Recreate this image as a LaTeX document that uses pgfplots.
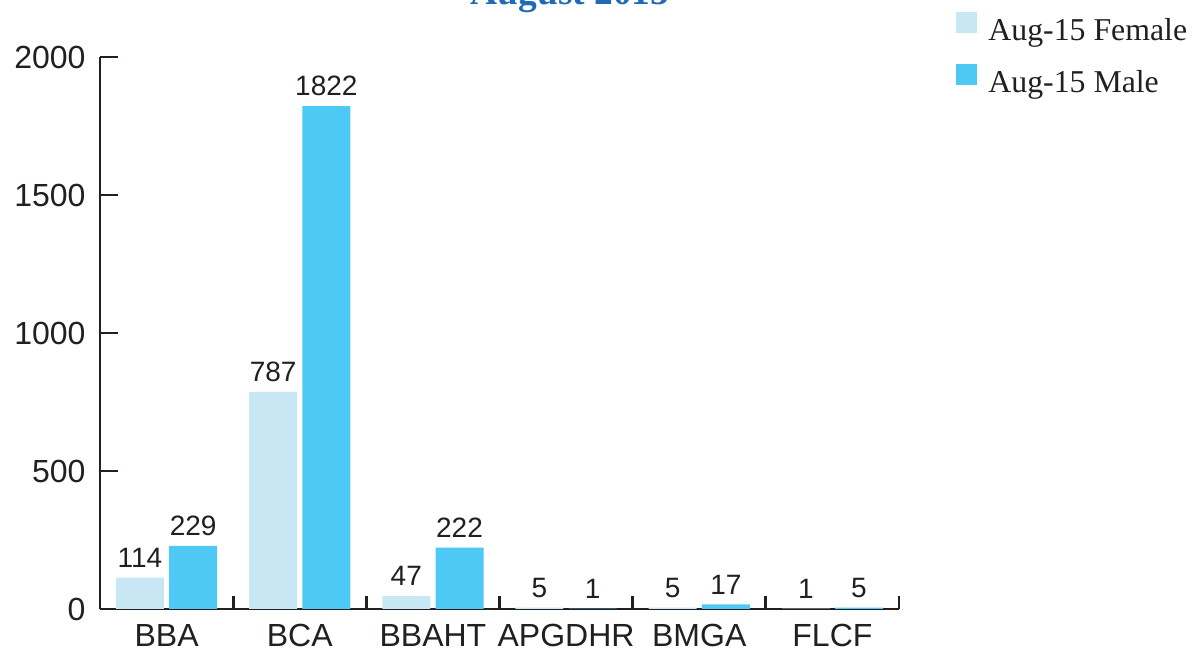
\documentclass[border=0pt]{standalone}
\usepackage{fontspec}
\setmainfont{Liberation Serif}
\newfontfamily\arialf{Liberation Sans}
\usepackage{pgfplots}
\pgfplotsset{compat=1.18}
\definecolor{femalec}{HTML}{C6E7F3}
\definecolor{malec}{HTML}{4EC8F4}
\definecolor{axisc}{HTML}{231F20}
\definecolor{titlec}{HTML}{1F6BB8}
\begin{document}
\begin{tikzpicture}
\begin{axis}[
  at={(50pt,23.5pt)}, anchor=south west,
  scale only axis, width=399.5pt, height=276pt,
  xmin=-0.5, xmax=5.5, ymin=0, ymax=2000,
  enlargelimits=false, clip=false,
  axis x line=bottom, axis y line=left,
  axis line style={-, line width=1.4pt, color=axisc},
  tick align=inside,
  xtick={0,1,2,3,4,5},
  xticklabels={BBA,BCA,BBAHT,APGDHR,BMGA,FLCF},
  minor xtick={0.5,1.5,2.5,3.5,4.5,5.5},
  major x tick style={draw=none},
  minor x tick style={line width=1.4pt, color=axisc},
  minor tick length=6.5pt,
  ytick={0,500,1000,1500,2000},
  major tick length=9pt,
  y tick style={line width=1.4pt, color=axisc},
  tick label style={font=\arialf\fontsize{16}{19}\selectfont, text=axisc},
  xticklabel style={yshift=-4.2pt},
  yticklabel style={xshift=-3.7pt},
  /pgf/number format/assume math mode=true,
  /pgf/number format/1000 sep={},
  legend style={at={(1,1)}, anchor=north west, xshift=28.5pt, yshift=22.5pt,
    draw=none, fill=none, inner sep=0pt,
    font=\fontsize{15.9}{19}\selectfont, text=axisc,
    nodes={inner sep=0pt, text height=10.9pt, text depth=3.5pt},
    row sep=8.1pt,
    /tikz/every odd column/.append style={column sep=5.5pt}},
  legend cell align=left,
  nodes near coords,
  every node near coord/.append style={font=\arialf\fontsize{14}{16}\selectfont, text=axisc, yshift=1.5pt},
]
\addplot[ybar, bar width=0.36, bar shift=-0.2, fill=femalec, draw=none,
  every node near coord/.append style={xshift=-13.3pt},
  legend image code/.code={\fill[femalec] (0pt,0pt) rectangle (10.5pt,10.5pt);}]
  coordinates {(0,114) (1,787) (2,47) (3,5) (4,5) (5,1)};
\addlegendentry{Aug-15 Female}
\addplot[ybar, bar width=0.36, bar shift=0.2, fill=malec, draw=none,
  every node near coord/.append style={xshift=13.3pt},
  legend image code/.code={\fill[malec] (0pt,0pt) rectangle (10.5pt,10.5pt);}]
  coordinates {(0,229) (1,1822) (2,222) (3,1) (4,17) (5,5)};
\addlegendentry{Aug-15 Male}
\end{axis}
\node[anchor=base, font=\bfseries\fontsize{18.7}{22}\selectfont, text=titlec] at (285pt,325.5pt) {August 2015};
\pgfresetboundingbox
\useasboundingbox (0,0) rectangle (599.5pt,328pt);
\end{tikzpicture}
\end{document}
